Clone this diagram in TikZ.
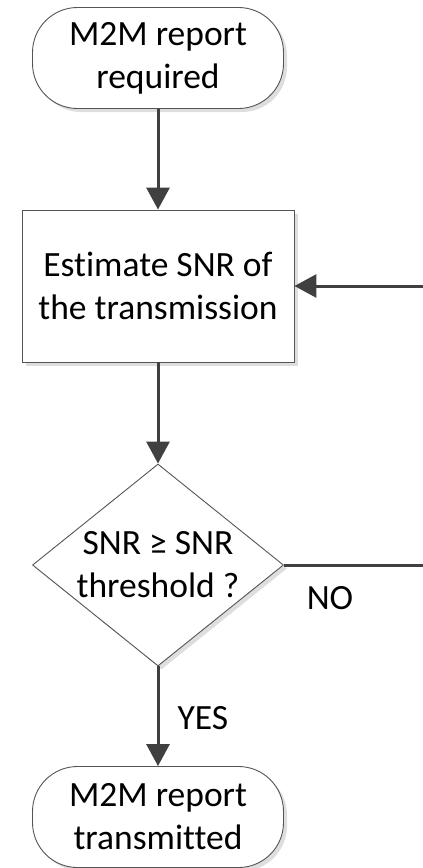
\documentclass[tikz,border=0pt]{standalone}
\usepackage{fontspec}
\setmainfont[Ligatures=NoCommon]{Carlito}
\usetikzlibrary{arrows.meta,shapes.geometric,shadows}
\definecolor{linec}{HTML}{404040}
\definecolor{edgec}{HTML}{555555}
\tikzset{
  txt/.style={font=\fontsize{35.5}{43}\selectfont, align=center},
  shapebase/.style={draw=edgec, line width=0.9pt, fill=white, txt, inner sep=0pt,
    drop shadow={shadow xshift=3.5pt, shadow yshift=-3.5pt, fill=black!13, opacity=1}},
  termbox/.style={shapebase, rectangle, rounded corners=45pt, minimum width=251pt, minimum height=101pt},
  procbox/.style={shapebase, rectangle, minimum width=272pt, minimum height=152pt},
  decbox/.style={shapebase, diamond, minimum width=251pt, minimum height=202pt},
  flow/.style={draw=linec, line width=3pt, -{Triangle[length=22pt,width=23pt]}},
  flowline/.style={draw=linec, line width=3pt},
  lbl/.style={font=\fontsize{35.5}{43}\selectfont, inner sep=0pt}
}
\begin{document}
\begin{tikzpicture}[x=1pt,y=-1pt]
\useasboundingbox (0,0) rectangle (423,868);
\node[termbox] (start) at (158,58) {M2M report\\required};
\node[procbox] (est) at (158,286) {Estimate SNR of\\the transmission};
\node[decbox, label={[txt, inner sep=0pt]center:SNR ≥ SNR\\threshold ?}] (dec) at (158,565) {};
\node[termbox] (done) at (158,817) {M2M report\\transmitted};
\coordinate (r1) at (425,286);
\coordinate (r2) at (425,565);
\draw[flow] (start.south) -- (est.north);
\draw[flow] (est.south) -- (dec.north);
\draw[flow] (dec.south) -- (done.north);
\draw[flowline] (dec.east) -- (r2);
\draw[flow] (r1) -- (est.east);
\node[lbl] (no) at (330,598) {NO};
\node[lbl] (yes) at (203,718) {YES};
\end{tikzpicture}
\end{document}
